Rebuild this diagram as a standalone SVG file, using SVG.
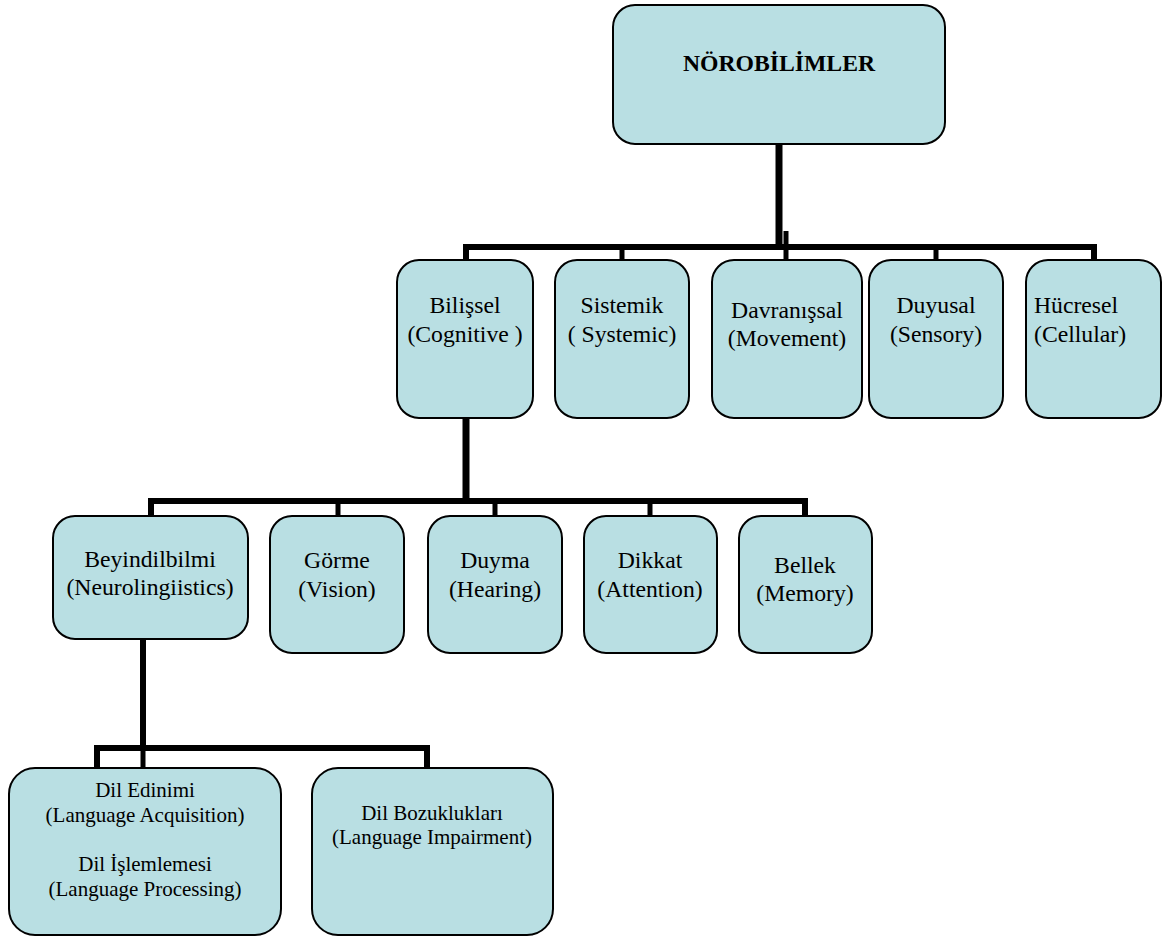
<svg xmlns="http://www.w3.org/2000/svg" width="1172" height="937" viewBox="0 0 1172 937">
<style>
.box{fill:#b9dfe3;stroke:#000;stroke-width:2}
text{font-family:"Liberation Serif","Times New Roman",serif;fill:#000;text-anchor:middle}
.l1{font-size:23.7px}
.l3{font-size:21px}
.b{font-weight:bold;font-size:23.7px}
.s{text-anchor:start}
.c{fill:none;stroke:#000;stroke-linejoin:miter;stroke-linecap:butt}
</style>
<rect width="1172" height="937" fill="#fff"/>
<g id="connectors">
<path class="c" stroke-width="7" d="M779 144V247"/>
<path class="c" stroke-width="6" d="M466 261V247H1094V261"/>
<path class="c" stroke-width="5" d="M622 247V261M936 247V261"/>
<path class="c" stroke-width="5" d="M786 231V261"/>
<path class="c" stroke-width="7" d="M466 418V501"/>
<path class="c" stroke-width="6" d="M151 517V501H805V517"/>
<path class="c" stroke-width="5" d="M338 501V517M495 501V517M650 501V517"/>
<path class="c" stroke-width="6" d="M143 639V748"/>
<path class="c" stroke-width="6" d="M97 769V748H427V769"/>
<path class="c" stroke-width="5" d="M143 748V769"/>
</g>
<g id="n-norobilimler"><rect class="box" x="613" y="5" width="332" height="139" rx="22"/><text class="b" x="779" y="71">NÖROBİLİMLER</text></g>
<g id="n-bilissel"><rect class="box" x="397" y="260" width="136" height="158" rx="22"/><text class="l1" x="465" y="313">Bilişsel</text><text class="l1" x="465" y="342">(Cognitive )</text></g>
<g id="n-sistemik"><rect class="box" x="555" y="260" width="134" height="158" rx="22"/><text class="l1" x="622" y="313">Sistemik</text><text class="l1" x="622" y="342">( Systemic)</text></g>
<g id="n-davranissal"><rect class="box" x="712" y="260" width="150" height="158" rx="22"/><text class="l1" x="787" y="318">Davranışsal</text><text class="l1" x="787" y="346">(Movement)</text></g>
<g id="n-duyusal"><rect class="box" x="869" y="260" width="134" height="158" rx="22"/><text class="l1" x="936" y="313">Duyusal</text><text class="l1" x="936" y="342">(Sensory)</text></g>
<g id="n-hucresel"><rect class="box" x="1026" y="260" width="135" height="158" rx="22"/><text class="l1 s" x="1034" y="313">Hücresel</text><text class="l1 s" x="1034" y="342">(Cellular)</text></g>
<g id="n-beyindilbilmi"><rect class="box" x="53" y="516" width="195" height="123" rx="22"/><text class="l1" x="150" y="567">Beyindilbilmi</text><text class="l1" x="150" y="595">(Neurolingiistics)</text></g>
<g id="n-gorme"><rect class="box" x="270" y="516" width="134" height="137" rx="22"/><text class="l1" x="337" y="568">Görme</text><text class="l1" x="337" y="597">(Vision)</text></g>
<g id="n-duyma"><rect class="box" x="428" y="516" width="134" height="137" rx="22"/><text class="l1" x="495" y="568">Duyma</text><text class="l1" x="495" y="597">(Hearing)</text></g>
<g id="n-dikkat"><rect class="box" x="584" y="516" width="133" height="137" rx="22"/><text class="l1" x="650" y="568">Dikkat</text><text class="l1" x="650" y="597">(Attention)</text></g>
<g id="n-bellek"><rect class="box" x="739" y="516" width="133" height="137" rx="22"/><text class="l1" x="805" y="573">Bellek</text><text class="l1" x="805" y="601">(Memory)</text></g>
<g id="n-dil-edinimi"><rect class="box" x="9" y="768" width="272" height="167" rx="26"/><text class="l3" x="145" y="797">Dil Edinimi</text><text class="l3" x="145" y="822">(Language Acquisition)</text><text class="l3" x="145" y="871">Dil İşlemlemesi</text><text class="l3" x="145" y="896">(Language Processing)</text></g>
<g id="n-dil-bozukluklari"><rect class="box" x="312" y="768" width="241" height="167" rx="26"/><text class="l3" x="432" y="820">Dil Bozuklukları</text><text class="l3" x="432" y="844">(Language Impairment)</text></g>
</svg>
